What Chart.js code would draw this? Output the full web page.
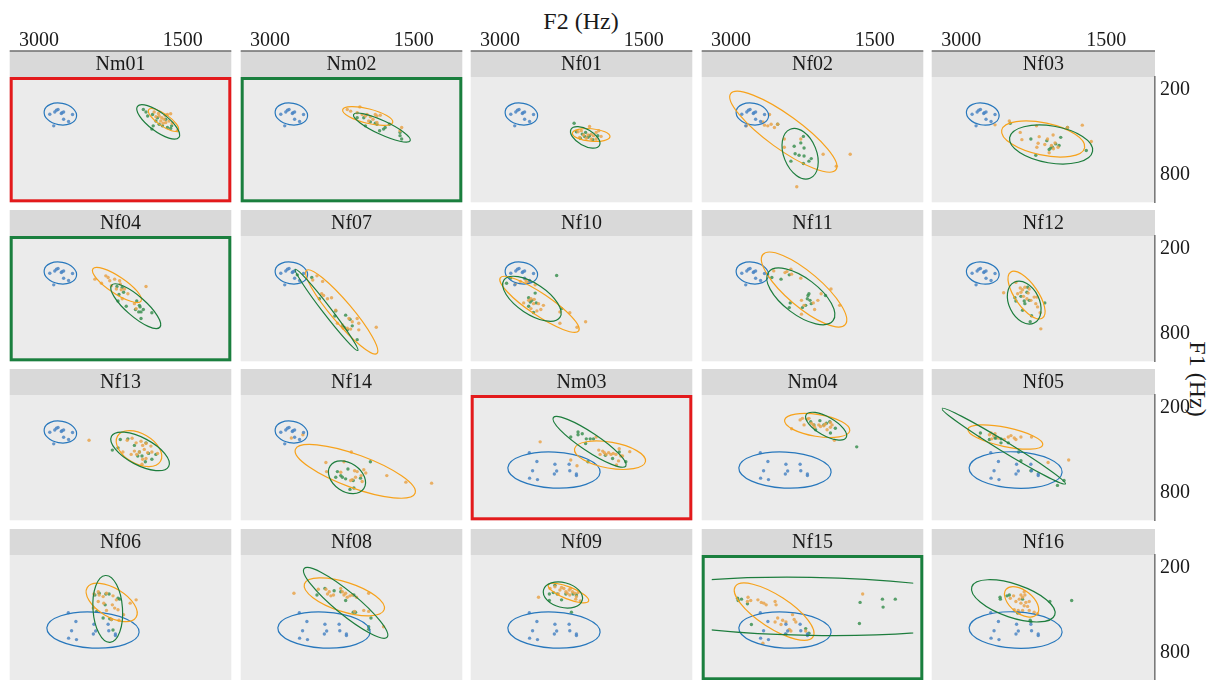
<!DOCTYPE html>
<html>
<head>
<meta charset="utf-8">
<script src="https://cdn.jsdelivr.net/npm/chart.js@4.4.1/dist/chart.umd.min.js"></script>
<style>
  html, body { margin: 0; padding: 0; background: #fff; }
  #wrap { position: relative; width: 1221px; height: 680px; overflow: hidden;
          font-family: "Liberation Serif", "Times New Roman", serif; color: #1a1a1a; }
  .cell { position: absolute; }
  .axt { position: absolute; font-size: 24px; white-space: nowrap; }
  #f2 { left: 581px; top: 21px; transform: translate(-50%, -50%); }
  #f1 { left: 1197px; top: 379px; transform: translate(-50%, -50%) rotate(90deg); }
</style>
</head>
<body>
<div id="wrap">
  <div class="axt" id="f2">F2 (Hz)</div>
  <div class="axt" id="f1">F1 (Hz)</div>
</div>
<script>
// axis setup (Hz)
const xTicks = [3000, 1500];
const yTicks = [200, 800];
const xLimits = [1100, 3200];
const yLimits = [150, 950];

const facetNames = ['Nm01', 'Nm02', 'Nf01', 'Nf02', 'Nf03',
                    'Nf04', 'Nf07', 'Nf10', 'Nf11', 'Nf12',
                    'Nf13', 'Nf14', 'Nm03', 'Nm04', 'Nf05',
                    'Nf06', 'Nf08', 'Nf09', 'Nf15', 'Nf16'];
const facetFrames = ['red', 'green', '', '', '',
                     'green', '', '', '', '',
                     '', '', 'red', '', '',
                     '', '', '', 'green', ''];

// points are [F2, F1]; ellipses are [centre F2, centre F1, major-axis end F2, major-axis end F1, minor/major]
const blueA = [[2887,372],[2835,356],[2818,343],[2801,338],[2767,366],[2743,356],[2743,407],[2691,423],[2650,373],[2846,453],[2760,361]];
const blueAEll = [2777,370,2609,391,0.66];
const blueB = [[2694,515],[2615,577],[2660,642],[2691,694],[2609,704],[2427,596],[2409,644],[2433,665],[2279,596],[2272,642],[2203,665],[2203,676]];
const blueBEll = [2437,637,1956,653,0.39];

const Nm01_orange = [[1799,356],[1754,366],[1747,384],[1720,396],[1696,407],[1685,379],[1661,373],[1627,368],[1678,430],[1706,435],[1644,419],[1610,435],[1558,488],[1730,419],[1781,389]];
const Nm01_green = [[1912,338],[1884,356],[1867,384],[1816,373],[1781,419],[1809,453],[1823,476],[1747,442],[1713,453],[1661,465],[1627,471],[1678,407],[1764,396],[1617,453]];
const Nm01_orangeEll = [1702,412,1548,485,0.33];
const Nm01_greenEll = [1757,425,1541,534,0.36];

const Nm02_orange = [[2194,338],[2159,350],[2063,320],[2039,373],[2005,384],[1988,373],[1953,389],[1926,407],[1902,373],[1885,384],[1850,379],[2091,361],[1971,419],[1627,465],[1644,488],[1885,430]];
const Nm02_green = [[2091,396],[2005,453],[1953,425],[1902,435],[1857,488],[1816,476],[1799,465],[1754,442],[1644,499],[1644,522],[1627,545],[1885,442],[2022,396]];
const Nm02_orangeEll = [1981,384,1720,428,0.28];
const Nm02_greenEll = [1833,465,1538,557,0.22];

const Nf01_orange = [[2186,494],[2152,488],[2128,517],[2083,517],[2066,458],[2049,511],[2025,522],[1997,499],[1970,488],[1946,527],[2100,540],[2049,545],[2169,534],[1997,545]];
const Nf01_green = [[2227,435],[2203,494],[2142,511],[2118,527],[2107,499],[2083,534],[2032,550],[2162,540],[2066,522],[1980,522]];
const Nf01_orangeEll = [2049,517,1853,529,0.33];
const Nf01_greenEll = [2111,534,1963,591,0.5];

const Nf02_orange = [[2598,373],[2650,448],[2616,453],[2581,442],[2547,465],[2513,442],[2444,545],[2444,603],[2272,545],[2039,653],[1757,653],[1902,736],[2314,881],[2839,453],[2667,425]];
const Nf02_green = [[2513,442],[2245,527],[2272,573],[2341,596],[2238,609],[2331,649],[2290,660],[2238,665],[2187,701],[2245,718],[2375,701],[2163,683]];
const Nf02_orangeEll = [2454,494,1905,761,0.26];
const Nf02_greenEll = [2279,649,2176,821,0.62];

const Nf03_orange = [[2502,419],[2650,446],[2389,499],[2372,550],[2221,453],[2193,529],[2204,575],[2135,584],[2107,545],[2049,517],[2066,591],[2029,573],[2046,614],[2090,642],[2217,603],[1747,448],[1654,563],[1901,465],[1998,603]];
const Nf03_green = [[2492,435],[2279,545],[2228,660],[2114,557],[1970,534],[1987,591],[2073,609],[2090,619],[2022,580],[1901,465],[1706,626],[2056,603]];
const Nf03_orangeEll = [2152,545,1723,607,0.38];
const Nf03_greenEll = [2070,584,1641,632,0.44];

const Nf04_orange = [[2417,413],[2348,442],[2303,390],[2279,401],[2262,424],[2211,413],[2159,424],[2193,482],[2142,488],[2108,482],[2073,516],[2132,551],[2005,585],[1987,620],[1884,465],[2152,447],[2245,459]];
const Nf04_green = [[2187,465],[2132,470],[2118,505],[2166,521],[2176,567],[2090,603],[1994,626],[1981,567],[1953,597],[1946,608],[1936,643],[1912,626],[1823,649],[1936,689],[1960,643]];
const Nf04_orangeEll = [2187,454,1936,567,0.29];
const Nf04_greenEll = [1991,603,1740,751,0.31];

const Nf07_orange = [[2510,390],[2451,429],[2461,516],[2441,528],[2400,551],[2358,544],[2314,631],[2297,723],[2245,735],[2235,758],[2194,758],[2159,764],[2142,712],[2091,689],[2074,723],[2074,769],[1892,751],[2177,689],[2554,419]];
const Nf07_green = [[2715,383],[2564,401],[2485,551],[2314,636],[2324,672],[2245,746],[2194,769],[2166,695],[2142,741],[2091,838],[2211,666],[2228,751]];
const Nf07_orangeEll = [2252,643,1885,935,0.19];
const Nf07_greenEll = [2410,629,2084,914,0.08];

const Nf10_orange = [[2839,447],[2787,429],[2736,413],[2701,436],[2633,452],[2753,580],[2701,562],[2677,551],[2643,555],[2650,585],[2598,585],[2547,597],[2677,620],[2615,636],[2574,626],[2375,643],[2272,649],[2375,723],[2197,751],[2107,712],[2725,429]];
const Nf10_green = [[2931,442],[2890,406],[2409,387],[2701,544],[2684,574],[2633,511],[2622,580],[2650,647],[2701,603],[2358,620],[2667,562]];
const Nf10_orangeEll = [2588,590,2179,776,0.23];
const Nf10_greenEll = [2667,551,2375,682,0.45];

const Nf11_orange = [[2554,355],[2437,367],[2417,360],[2375,344],[2368,378],[2272,406],[2265,562],[2238,597],[2142,580],[2128,626],[2094,562],[2060,516],[1957,482],[1867,597],[2265,659]];
const Nf11_green = [[2574,401],[2478,413],[2392,383],[2382,580],[2392,613],[2255,613],[2221,597],[2204,551],[2197,528],[2176,562],[2163,585],[2187,516],[2015,528]];
const Nf11_orangeEll = [2238,486,1809,732,0.32];
const Nf11_greenEll = [2272,534,1936,705,0.45];

const Nf12_orange = [[2561,509],[2434,436],[2389,475],[2365,488],[2341,470],[2296,482],[2307,511],[2320,551],[2279,562],[2245,539],[2217,539],[2228,585],[2210,608],[2183,649],[2176,762],[2416,516],[2355,534],[2382,505]];
const Nf12_green = [[2444,544],[2434,567],[2382,534],[2365,631],[2348,567],[2313,470],[2296,562],[2272,670],[2286,712],[2135,580],[2320,505],[2341,585]];
const Nf12_orangeEll = [2324,525,2159,686,0.41];
const Nf12_greenEll = [2348,578,2245,721,0.67];

const Nf13_orange = [[2478,428],[2125,510],[2080,428],[2029,414],[1987,446],[1936,435],[1919,464],[1884,451],[2005,504],[1981,527],[1953,510],[1902,492],[1867,515],[1833,469],[1823,510],[1919,561],[1884,556],[1926,596],[2039,527],[1764,520]];
const Nf13_green = [[2235,497],[2152,423],[2073,418],[2005,464],[1884,446],[1953,510],[1970,538],[1926,538],[1857,520],[1823,561],[1781,527],[1891,579],[2176,481]];
const Nf13_orangeEll = [1957,487,1733,575,0.6];
const Nf13_greenEll = [1946,506,1648,612,0.42];

const Nf14_orange = [[2777,412],[2657,389],[2417,584],[2410,648],[2228,579],[2152,510],[2118,642],[2091,648],[2022,635],[2001,658],[2050,676],[2039,717],[2108,688],[2142,704],[2159,711],[1782,676],[1583,722],[1315,729],[2262,653]];
const Nf14_green = [[2297,648],[2262,676],[2245,688],[2211,699],[2187,630],[2132,711],[2125,763],[2166,773],[2056,694],[1953,579],[2314,688]];
const Nf14_orangeEll = [2111,646,1487,800,0.26];
const Nf14_greenEll = [2197,688,2022,768,0.7];

const Nm03_orange = [[2581,439],[2262,566],[2197,607],[1997,405],[1970,497],[1929,504],[1912,515],[1894,527],[1867,515],[1843,527],[1819,520],[1791,527],[1757,487],[1740,538],[1764,573],[1723,538],[1647,508],[1785,602],[1956,527]];
const Nm03_green = [[2262,405],[2186,370],[2186,389],[2142,382],[2100,418],[2059,418],[2025,418],[2107,451],[1901,533],[1826,556],[1688,579],[2083,579],[1757,510]];
const Nm03_orangeEll = [1853,533,1483,577,0.36];
const Nm03_greenEll = [2066,439,1688,609,0.21];

const Nm04_orange = [[2368,347],[2279,285],[2255,274],[2238,320],[2204,280],[2162,308],[2142,320],[2128,336],[2084,320],[2066,331],[2032,326],[2015,313],[1998,354],[1963,303],[1946,320],[1922,428],[1963,336],[2187,274]];
const Nm04_green = [[2169,297],[2118,354],[2073,290],[2032,320],[2005,308],[1970,297],[1963,377],[1912,343],[1689,474],[2135,320]];
const Nm04_orangeEll = [2101,324,1761,361,0.33];
const Nm04_greenEll = [2008,329,1799,409,0.4];

const Nf05_orange = [[2811,405],[2708,389],[2691,377],[2664,395],[2650,382],[2616,412],[2554,423],[2513,405],[2485,395],[2451,412],[2434,423],[2382,405],[2272,405],[2101,584],[1888,566],[2684,418]];
const Nf05_green = [[2801,377],[2708,423],[2640,412],[2588,446],[2513,446],[2588,418],[2406,510],[2382,572],[2279,642],[2004,745],[1936,710],[2650,412]];
const Nf05_orangeEll = [2543,405,2156,460,0.25];
const Nf05_greenEll = [2561,469,1922,734,0.07];

const Nf06_orange = [[2427,384],[2382,368],[2372,391],[2331,402],[2296,379],[2228,397],[2193,425],[2382,437],[2324,448],[2235,460],[2211,483],[2176,494],[2118,529],[2049,448],[1987,425],[2296,499],[2434,483],[2245,563],[2166,568]];
const Nf06_green = [[2417,391],[2372,379],[2303,384],[2269,384],[2176,414],[2310,460],[2399,506],[2331,552],[2245,563],[2228,637],[2262,558],[2159,420]];
const Nf06_orangeEll = [2242,443,1987,547,0.5];
const Nf06_greenEll = [2283,489,2259,724,0.44];

const Nf08_orange = [[2750,379],[2496,351],[2417,351],[2400,384],[2365,397],[2338,391],[2262,345],[2245,368],[2228,391],[2194,407],[2166,397],[2142,391],[2098,407],[2118,506],[2022,499],[1971,506],[1971,379],[1816,614],[2211,379],[2382,368]];
const Nf08_green = [[2510,391],[2427,345],[2331,361],[2211,430],[2125,391],[2132,512],[2108,512],[1947,552],[1971,614],[1971,632],[2262,368]];
const Nf08_orangeEll = [2225,404,1809,494,0.35];
const Nf08_greenEll = [2211,446,1778,687,0.21];

const Nf09_orange = [[2598,407],[2478,345],[2427,333],[2375,356],[2358,338],[2334,345],[2313,368],[2300,379],[2279,356],[2265,345],[2245,368],[2221,379],[2203,402],[2210,420],[2186,374],[2162,432],[2392,384],[2272,391]];
const Nf09_green = [[2485,384],[2444,374],[2427,322],[2403,384],[2358,425],[2313,384],[2255,512],[2238,384],[2485,430],[2203,391]];
const Nf09_orangeEll = [2286,377,2076,434,0.28];
const Nf09_greenEll = [2344,391,2142,427,0.62];

const Nf15_orange = [[2822,407],[2828,437],[2794,430],[2719,425],[2684,443],[2657,448],[2633,460],[2540,437],[2530,460],[2513,552],[2478,598],[2461,568],[2427,581],[2358,529],[2341,563],[2324,581],[2392,632],[2375,644],[2221,644],[2667,729],[1627,384],[2540,581]];
const Nf15_green = [[2931,414],[2925,430],[2890,420],[2828,453],[2787,598],[2221,627],[1654,443],[1661,591],[1421,420],[1414,476],[1287,420],[2187,660],[2427,667]];
const Nf15_orangeEll = [2550,508,2145,685,0.35];
const Nf15_greenEll = [2169,471,110,494,0.147];

const Nf16_orange = [[2492,414],[2458,397],[2434,437],[2399,420],[2382,391],[2365,407],[2348,368],[2341,391],[2382,448],[2331,443],[2296,437],[2348,466],[2313,471],[2451,494],[2410,499],[2365,499],[2296,499],[2245,512],[2399,517],[2210,522]];
const Nf16_green = [[2595,420],[2598,407],[2526,397],[2502,391],[2416,517],[2286,568],[2279,579],[2083,437],[1857,430],[2365,420]];
const Nf16_orangeEll = [2375,439,2214,526,0.57];
const Nf16_greenEll = [2461,432,2032,531,0.38];

// [blue points, blue ellipse, orange points, orange ellipse, green points, green ellipse] per facet
const facetData = [
  [blueA, blueAEll, Nm01_orange, Nm01_orangeEll, Nm01_green, Nm01_greenEll],
  [blueA, blueAEll, Nm02_orange, Nm02_orangeEll, Nm02_green, Nm02_greenEll],
  [blueA, blueAEll, Nf01_orange, Nf01_orangeEll, Nf01_green, Nf01_greenEll],
  [blueA, blueAEll, Nf02_orange, Nf02_orangeEll, Nf02_green, Nf02_greenEll],
  [blueA, blueAEll, Nf03_orange, Nf03_orangeEll, Nf03_green, Nf03_greenEll],
  [blueA, blueAEll, Nf04_orange, Nf04_orangeEll, Nf04_green, Nf04_greenEll],
  [blueA, blueAEll, Nf07_orange, Nf07_orangeEll, Nf07_green, Nf07_greenEll],
  [blueA, blueAEll, Nf10_orange, Nf10_orangeEll, Nf10_green, Nf10_greenEll],
  [blueA, blueAEll, Nf11_orange, Nf11_orangeEll, Nf11_green, Nf11_greenEll],
  [blueA, blueAEll, Nf12_orange, Nf12_orangeEll, Nf12_green, Nf12_greenEll],
  [blueA, blueAEll, Nf13_orange, Nf13_orangeEll, Nf13_green, Nf13_greenEll],
  [blueA, blueAEll, Nf14_orange, Nf14_orangeEll, Nf14_green, Nf14_greenEll],
  [blueB, blueBEll, Nm03_orange, Nm03_orangeEll, Nm03_green, Nm03_greenEll],
  [blueB, blueBEll, Nm04_orange, Nm04_orangeEll, Nm04_green, Nm04_greenEll],
  [blueB, blueBEll, Nf05_orange, Nf05_orangeEll, Nf05_green, Nf05_greenEll],
  [blueB, blueBEll, Nf06_orange, Nf06_orangeEll, Nf06_green, Nf06_greenEll],
  [blueB, blueBEll, Nf08_orange, Nf08_orangeEll, Nf08_green, Nf08_greenEll],
  [blueB, blueBEll, Nf09_orange, Nf09_orangeEll, Nf09_green, Nf09_greenEll],
  [blueB, blueBEll, Nf15_orange, Nf15_orangeEll, Nf15_green, Nf15_greenEll],
  [blueB, blueBEll, Nf16_orange, Nf16_orangeEll, Nf16_green, Nf16_greenEll]
];

// look
const FONT = '"Liberation Serif", "Times New Roman", serif';
const PANEL_BG = '#EBEBEB', STRIP_BG = '#D9D9D9', TEXT = '#1a1a1a';
const PT_COLORS = ['rgba(76,134,196,0.85)', 'rgba(233,164,76,0.85)', 'rgba(62,146,84,0.85)'];
const ELL_COLORS = ['#2777BC', '#F7A21B', '#1D7D3D'];
const FRAME_COLORS = { red: '#E31A1C', green: '#1A7F3E' };
const PANEL_W = 225, PANEL_H = 127, STRIP_H = 26, TOP_AXIS = 51, RIGHT_AXIS = 66;
const rowTops = [77, 236, 395, 555];

const toXY = arr => arr.map(p => ({ x: p[0], y: p[1] }));

function drawEllipse(ctx, xs, ys, e, color) {
  const cx = xs.getPixelForValue(e[0]), cy = ys.getPixelForValue(e[1]);
  const ex = xs.getPixelForValue(e[2]), ey = ys.getPixelForValue(e[3]);
  const a = Math.hypot(ex - cx, ey - cy);
  const rot = Math.atan2(ey - cy, ex - cx);
  ctx.strokeStyle = color;
  ctx.beginPath();
  ctx.ellipse(cx, cy, a, a * e[4], rot, 0, 2 * Math.PI);
  ctx.stroke();
}

function facetPlugin(name, frame, ells, top) {
  return {
    id: 'facet',
    beforeDraw(chart) {
      const { ctx, chartArea: a } = chart;
      const w = a.right - a.left;
      ctx.save();
      ctx.fillStyle = PANEL_BG;
      ctx.fillRect(a.left, a.top, w, a.bottom - a.top);
      ctx.fillStyle = STRIP_BG;
      ctx.fillRect(a.left, a.top - STRIP_H, w, STRIP_H);
      ctx.fillStyle = TEXT;
      ctx.font = '20px ' + FONT;
      ctx.textAlign = 'center';
      ctx.textBaseline = 'middle';
      ctx.fillText(name, (a.left + a.right) / 2, a.top - STRIP_H / 2 + 1);
      if (top) {
        ctx.strokeStyle = '#6e6e6e';
        ctx.lineWidth = 1.6;
        ctx.beginPath();
        ctx.moveTo(a.left, a.top - STRIP_H);
        ctx.lineTo(a.right, a.top - STRIP_H);
        ctx.stroke();
      }
      ctx.restore();
    },
    afterDatasetsDraw(chart) {
      const { ctx, chartArea: a, scales: { x, y } } = chart;
      ctx.save();
      // ellipse paths are only kept inside the data limits
      const lx = x.getPixelForValue(xLimits[1]), rx = x.getPixelForValue(xLimits[0]);
      const ty = y.getPixelForValue(yLimits[0]), by = y.getPixelForValue(yLimits[1]);
      ctx.beginPath();
      ctx.rect(lx, ty, rx - lx, by - ty);
      ctx.clip();
      ctx.lineWidth = 1.2;
      ells.forEach((e, k) => drawEllipse(ctx, x, y, e, ELL_COLORS[k]));
      ctx.restore();
      if (frame) {
        ctx.save();
        ctx.strokeStyle = FRAME_COLORS[frame];
        ctx.lineWidth = 3;
        ctx.strokeRect(a.left + 1.5, a.top + 1.5, a.right - a.left - 3, a.bottom - a.top - 3);
        ctx.restore();
      }
    }
  };
}

const wrap = document.getElementById('wrap');

facetNames.forEach((name, i) => {
  const r = Math.floor(i / 5), c = i % 5;
  const top = r === 0, right = c === 4;
  const [bPts, bEll, oPts, oEll, gPts, gEll] = facetData[i];
  const w = PANEL_W + (right ? RIGHT_AXIS : 0);
  const h = PANEL_H + STRIP_H + (top ? TOP_AXIS : 0);
  const cell = document.createElement('div');
  cell.className = 'cell';
  cell.style.width = w + 'px';
  cell.style.height = h + 'px';
  cell.style.left = Math.round(8 + c * 230.5) + 'px';
  cell.style.top = (rowTops[r] - STRIP_H - (top ? TOP_AXIS : 0)) + 'px';
  const canvas = document.createElement('canvas');
  cell.appendChild(canvas);
  wrap.appendChild(cell);

  new Chart(canvas, {
    type: 'scatter',
    data: {
      datasets: [
        { data: toXY(bPts), backgroundColor: PT_COLORS[0] },
        { data: toXY(oPts), backgroundColor: PT_COLORS[1] },
        { data: toXY(gPts), backgroundColor: PT_COLORS[2] }
      ]
    },
    options: {
      responsive: true,
      maintainAspectRatio: false,
      animation: false,
      devicePixelRatio: 1,
      events: [],
      layout: { padding: { top: top ? 0 : STRIP_H, left: 0, right: 0, bottom: 0 } },
      elements: { point: { radius: 1.7, borderWidth: 0, hoverRadius: 1.7 } },
      plugins: { legend: { display: false }, tooltip: { enabled: false } },
      scales: {
        x: {
          type: 'linear', position: 'top', reverse: true, min: 995, max: 3305,
          display: top,
          afterBuildTicks: s => { s.ticks = xTicks.map(v => ({ value: v })); },
          afterFit: s => {
            if (!top) return;
            s.height = TOP_AXIS + STRIP_H;
            s.paddingLeft = 0; s.paddingRight = 0;
          },
          grid: { display: false, drawTicks: false, tickLength: 0 },
          border: { display: false },
          ticks: { padding: 24, maxRotation: 0, color: TEXT, font: { family: FONT, size: 20 },
                   callback: v => String(v) }
        },
        y: {
          type: 'linear', position: 'right', reverse: true, min: 110, max: 990,
          display: right,
          afterBuildTicks: s => { s.ticks = yTicks.map(v => ({ value: v })); },
          afterFit: s => {
            if (!right) return;
            s.width = RIGHT_AXIS;
            s.paddingTop = 0; s.paddingBottom = 0;
          },
          grid: { display: false, drawTicks: false, tickLength: 0 },
          border: { display: true, color: '#7a7a7a', width: 1.6 },
          ticks: { padding: 5, color: TEXT, font: { family: FONT, size: 20 },
                   callback: v => String(v) }
        }
      }
    },
    plugins: [facetPlugin(name, facetFrames[i], [bEll, oEll, gEll], top)]
  });
});
</script>
</body>
</html>
